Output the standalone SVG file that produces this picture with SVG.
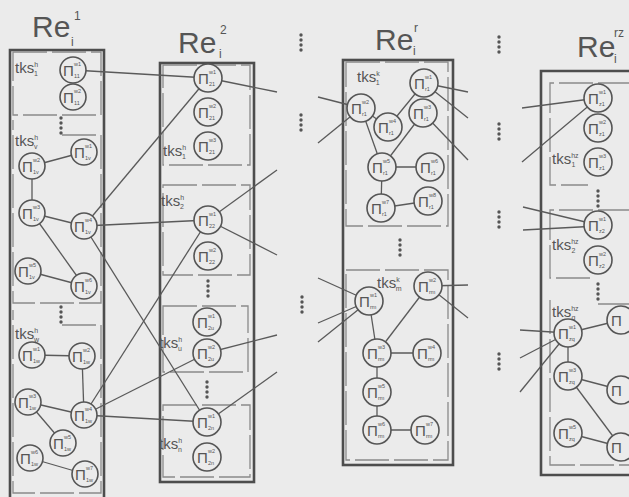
<svg xmlns="http://www.w3.org/2000/svg" width="629" height="497" viewBox="0 0 629 497">
<style>
.bg{fill:#ebebeb}
.box{fill:none;stroke:#4d4d4d;stroke-width:2.6}
.grp{fill:none;stroke:#8a8a8a;stroke-width:1.3;stroke-dasharray:34 5}
.e{stroke:#5a5a5a;stroke-width:1.3;fill:none}
.n circle{fill:#ebebeb;stroke:#555;stroke-width:1.6}
.p{font-family:"Liberation Sans",Arial,sans-serif;font-size:15px;fill:#555}
.s{font-family:"Liberation Sans",Arial,sans-serif;font-size:5.5px;fill:#555}
.t{font-family:"Liberation Sans",Arial,sans-serif;font-size:15px;fill:#555}
.ts{font-family:"Liberation Sans",Arial,sans-serif;font-size:7px;fill:#555}
.ti{font-family:"Liberation Sans",Arial,sans-serif;font-size:30px;fill:#555}
.tis{font-family:"Liberation Sans",Arial,sans-serif;font-size:12px;fill:#555}
.d{fill:#555}
</style>
<defs>
<g id="dots"><circle cx="0" cy="0" r="1.7"/><circle cx="0" cy="5" r="1.7"/><circle cx="0" cy="10" r="1.7"/><circle cx="0" cy="15" r="1.7"/></g>
</defs>
<rect class="bg" x="0" y="0" width="629" height="497"/>

<g id="titles">
<text class="ti" x="32" y="37">Re</text><text class="tis" x="74" y="20">1</text><text class="tis" x="71" y="46">i</text>
<text class="ti" x="178" y="53">Re</text><text class="tis" x="220" y="34">2</text><text class="tis" x="219" y="58">i</text>
<text class="ti" x="375" y="50">Re</text><text class="tis" x="414" y="32">r</text><text class="tis" x="413" y="55">i</text>
<text class="ti" x="577" y="57">Re</text><text class="tis" x="614" y="37">rz</text><text class="tis" x="614" y="63">i</text>
</g>

<g id="boxes">
<path class="box" d="M10,500 V50 H104 V500"/>
<rect class="box" x="160" y="63" width="94" height="419"/>
<rect class="box" x="343" y="60" width="110" height="405"/>
<path class="box" d="M632,71 H541 V475 H632"/>
<path class="grp" d="M13,52 H101 V115 H13 Z"/>
<path class="grp" d="M62,135 H101 V303 H13 V120"/>
<path class="grp" d="M62,325 H101 V493 H13 V310"/>
<path class="grp" d="M163,65 H250 V165 H163 Z"/>
<path class="grp" d="M163,185 H250 V275 H163 Z"/>
<path class="grp" d="M163,306 H248 V372 H163 Z"/>
<path class="grp" d="M163,405 H250 V477 H163 Z"/>
<path class="grp" d="M346,62 H448 V226 H346 Z"/>
<path class="grp" d="M346,270 H448 V460 H346 Z"/>
<path class="grp" d="M632,83 H550 V185 H588"/>
<path class="grp" d="M632,210 H550 V278 H592"/>
<path class="grp" d="M598,304 H632"/>
<path class="grp" d="M550,300 V465 H632"/>
</g>

<g id="ellipses" class="d">
<use href="#dots" x="61" y="118"/>
<use href="#dots" x="61" y="307"/>
<use href="#dots" x="208" y="281"/>
<use href="#dots" x="207" y="382"/>
<use href="#dots" x="400" y="240"/>
<use href="#dots" x="598" y="191"/>
<use href="#dots" x="598" y="284"/>
<use href="#dots" x="301" y="35"/>
<use href="#dots" x="301" y="115"/>
<use href="#dots" x="302" y="297"/>
<use href="#dots" x="499" y="37"/>
<use href="#dots" x="499" y="124"/>
<use href="#dots" x="499" y="212"/>
<use href="#dots" x="499" y="354"/>
</g>

<g id="connectors" class="e">
<line x1="73" y1="70" x2="208" y2="78"/>
<line x1="208" y1="78" x2="277" y2="92"/>
<line x1="84" y1="226" x2="208" y2="78"/>
<line x1="84" y1="226" x2="208" y2="220"/>
<line x1="84" y1="226" x2="207" y2="422"/>
<line x1="84" y1="415" x2="208" y2="220"/>
<line x1="84" y1="415" x2="207" y2="353"/>
<line x1="84" y1="415" x2="207" y2="422"/>
<line x1="208" y1="220" x2="277" y2="170"/>
<line x1="208" y1="220" x2="277" y2="255"/>
<line x1="207" y1="353" x2="277" y2="335"/>
<line x1="207" y1="422" x2="277" y2="372"/>
<line x1="32" y1="166" x2="84" y2="152"/>
<line x1="32" y1="166" x2="32" y2="213"/>
<line x1="32" y1="213" x2="84" y2="226"/>
<line x1="32" y1="213" x2="84" y2="286"/>
<line x1="28" y1="271" x2="84" y2="286"/>
<line x1="32" y1="355" x2="82" y2="356"/>
<line x1="82" y1="356" x2="84" y2="415"/>
<line x1="28" y1="402" x2="84" y2="415"/>
<line x1="28" y1="402" x2="63" y2="443"/>
<line x1="30" y1="458" x2="85" y2="474"/>
<line x1="361" y1="108" x2="388" y2="127"/>
<line x1="388" y1="127" x2="424" y2="83"/>
<line x1="361" y1="108" x2="382" y2="167"/>
<line x1="423" y1="113" x2="382" y2="167"/>
<line x1="382" y1="167" x2="430" y2="167"/>
<line x1="382" y1="167" x2="381" y2="208"/>
<line x1="381" y1="208" x2="428" y2="201"/>
<line x1="369" y1="301" x2="377" y2="353"/>
<line x1="428" y1="286" x2="377" y2="353"/>
<line x1="377" y1="353" x2="427" y2="353"/>
<line x1="377" y1="353" x2="377" y2="392"/>
<line x1="377" y1="392" x2="377" y2="430"/>
<line x1="377" y1="430" x2="425" y2="430"/>
<line x1="318" y1="97" x2="361" y2="108"/>
<line x1="318" y1="143" x2="361" y2="108"/>
<line x1="318" y1="278" x2="369" y2="301"/>
<line x1="318" y1="323" x2="369" y2="301"/>
<line x1="318" y1="342" x2="369" y2="301"/>
<line x1="424" y1="83" x2="468" y2="92"/>
<line x1="424" y1="83" x2="468" y2="118"/>
<line x1="423" y1="113" x2="468" y2="160"/>
<line x1="428" y1="286" x2="468" y2="285"/>
<line x1="428" y1="286" x2="468" y2="318"/>
<line x1="522" y1="108" x2="598" y2="98"/>
<line x1="522" y1="162" x2="598" y2="98"/>
<line x1="523" y1="207" x2="598" y2="225"/>
<line x1="523" y1="230" x2="598" y2="226"/>
<line x1="520" y1="330" x2="568" y2="333"/>
<line x1="520" y1="358" x2="568" y2="333"/>
<line x1="520" y1="392" x2="568" y2="333"/>
<line x1="568" y1="333" x2="621" y2="320"/>
<line x1="568" y1="333" x2="568" y2="376"/>
<line x1="568" y1="376" x2="621" y2="390"/>
<line x1="568" y1="376" x2="621" y2="447"/>
<line x1="568" y1="433" x2="621" y2="447"/>
</g>

<g id="tks">
<text class="t" x="15" y="73">tks<tspan class="ts" dy="-6">h</tspan><tspan class="ts" dx="-4" dy="9">1</tspan></text>
<text class="t" x="15" y="146">tks<tspan class="ts" dy="-6">h</tspan><tspan class="ts" dx="-4" dy="9">v</tspan></text>
<text class="t" x="15" y="339">tks<tspan class="ts" dy="-6">h</tspan><tspan class="ts" dx="-4" dy="9">w</tspan></text>
<text class="t" x="163" y="156">tks<tspan class="ts" dy="-6">h</tspan><tspan class="ts" dx="-4" dy="9">1</tspan></text>
<text class="t" x="161" y="206">tks<tspan class="ts" dy="-6">h</tspan><tspan class="ts" dx="-4" dy="9">2</tspan></text>
<text class="t" x="159" y="348">tks<tspan class="ts" dy="-6">h</tspan><tspan class="ts" dx="-4" dy="9">u</tspan></text>
<text class="t" x="159" y="449">tks<tspan class="ts" dy="-6">h</tspan><tspan class="ts" dx="-4" dy="9">n</tspan></text>
<text class="t" x="357" y="82">tks<tspan class="ts" dy="-6">k</tspan><tspan class="ts" dx="-4" dy="9">1</tspan></text>
<text class="t" x="377" y="288">tks<tspan class="ts" dy="-6">k</tspan><tspan class="ts" dx="-4" dy="9">m</tspan></text>
<text class="t" x="552" y="164">tks<tspan class="ts" dy="-6">hz</tspan><tspan class="ts" dx="-7" dy="9">1</tspan></text>
<text class="t" x="552" y="250">tks<tspan class="ts" dy="-6">hz</tspan><tspan class="ts" dx="-7" dy="9">2</tspan></text>
<text class="t" x="552" y="317">tks<tspan class="ts" dy="-6">hz</tspan><tspan class="ts" dx="-7" dy="9">q</tspan></text>
</g>

<g id="nA1" class="n" transform="translate(73,70)"><circle r="13"/><text class="p" x="-10" y="6">Π</text><text class="s" x="1" y="-4">w1</text><text class="s" x="1" y="8">11</text></g>
<g id="nA2" class="n" transform="translate(73,97)"><circle r="13"/><text class="p" x="-10" y="6">Π</text><text class="s" x="1" y="-4">w2</text><text class="s" x="1" y="8">11</text></g>
<g id="nB1" class="n" transform="translate(84,152)"><circle r="13"/><text class="p" x="-10" y="6">Π</text><text class="s" x="1" y="-4">w1</text><text class="s" x="1" y="8">1v</text></g>
<g id="nB2" class="n" transform="translate(32,166)"><circle r="13"/><text class="p" x="-10" y="6">Π</text><text class="s" x="1" y="-4">w2</text><text class="s" x="1" y="8">1v</text></g>
<g id="nB3" class="n" transform="translate(32,213)"><circle r="13"/><text class="p" x="-10" y="6">Π</text><text class="s" x="1" y="-4">w3</text><text class="s" x="1" y="8">1v</text></g>
<g id="nB4" class="n" transform="translate(84,226)"><circle r="13"/><text class="p" x="-10" y="6">Π</text><text class="s" x="1" y="-4">w4</text><text class="s" x="1" y="8">1v</text></g>
<g id="nB5" class="n" transform="translate(28,271)"><circle r="13"/><text class="p" x="-10" y="6">Π</text><text class="s" x="1" y="-4">w5</text><text class="s" x="1" y="8">1v</text></g>
<g id="nB6" class="n" transform="translate(84,286)"><circle r="13"/><text class="p" x="-10" y="6">Π</text><text class="s" x="1" y="-4">w6</text><text class="s" x="1" y="8">1v</text></g>
<g id="nC1" class="n" transform="translate(32,355)"><circle r="13"/><text class="p" x="-10" y="6">Π</text><text class="s" x="1" y="-4">w1</text><text class="s" x="1" y="8">1w</text></g>
<g id="nC2" class="n" transform="translate(82,356)"><circle r="13"/><text class="p" x="-10" y="6">Π</text><text class="s" x="1" y="-4">w2</text><text class="s" x="1" y="8">1w</text></g>
<g id="nC3" class="n" transform="translate(28,402)"><circle r="13"/><text class="p" x="-10" y="6">Π</text><text class="s" x="1" y="-4">w3</text><text class="s" x="1" y="8">1w</text></g>
<g id="nC4" class="n" transform="translate(84,415)"><circle r="13"/><text class="p" x="-10" y="6">Π</text><text class="s" x="1" y="-4">w4</text><text class="s" x="1" y="8">1w</text></g>
<g id="nC5" class="n" transform="translate(63,443)"><circle r="13"/><text class="p" x="-10" y="6">Π</text><text class="s" x="1" y="-4">w5</text><text class="s" x="1" y="8">1w</text></g>
<g id="nC6" class="n" transform="translate(30,458)"><circle r="13"/><text class="p" x="-10" y="6">Π</text><text class="s" x="1" y="-4">w6</text><text class="s" x="1" y="8">1w</text></g>
<g id="nC7" class="n" transform="translate(85,474)"><circle r="13"/><text class="p" x="-10" y="6">Π</text><text class="s" x="1" y="-4">w7</text><text class="s" x="1" y="8">1w</text></g>

<g id="nD1" class="n" transform="translate(208,78)"><circle r="14"/><text class="p" x="-10" y="6">Π</text><text class="s" x="1" y="-4">w1</text><text class="s" x="1" y="8">21</text></g>
<g id="nD2" class="n" transform="translate(208,112)"><circle r="14"/><text class="p" x="-10" y="6">Π</text><text class="s" x="1" y="-4">w2</text><text class="s" x="1" y="8">21</text></g>
<g id="nD3" class="n" transform="translate(208,146)"><circle r="14"/><text class="p" x="-10" y="6">Π</text><text class="s" x="1" y="-4">w3</text><text class="s" x="1" y="8">21</text></g>
<g id="nE1" class="n" transform="translate(208,220)"><circle r="14"/><text class="p" x="-10" y="6">Π</text><text class="s" x="1" y="-4">w1</text><text class="s" x="1" y="8">22</text></g>
<g id="nE2" class="n" transform="translate(208,256)"><circle r="14"/><text class="p" x="-10" y="6">Π</text><text class="s" x="1" y="-4">w2</text><text class="s" x="1" y="8">22</text></g>
<g id="nF1" class="n" transform="translate(207,322)"><circle r="14"/><text class="p" x="-10" y="6">Π</text><text class="s" x="1" y="-4">w1</text><text class="s" x="1" y="8">2u</text></g>
<g id="nF2" class="n" transform="translate(207,353)"><circle r="14"/><text class="p" x="-10" y="6">Π</text><text class="s" x="1" y="-4">w2</text><text class="s" x="1" y="8">2u</text></g>
<g id="nG1" class="n" transform="translate(207,422)"><circle r="14"/><text class="p" x="-10" y="6">Π</text><text class="s" x="1" y="-4">w1</text><text class="s" x="1" y="8">2n</text></g>
<g id="nG2" class="n" transform="translate(207,457)"><circle r="14"/><text class="p" x="-10" y="6">Π</text><text class="s" x="1" y="-4">w2</text><text class="s" x="1" y="8">2n</text></g>

<g id="nH1" class="n" transform="translate(424,83)"><circle r="14"/><text class="p" x="-10" y="6">Π</text><text class="s" x="1" y="-4">w1</text><text class="s" x="1" y="8">r1</text></g>
<g id="nH2" class="n" transform="translate(361,108)"><circle r="14"/><text class="p" x="-10" y="6">Π</text><text class="s" x="1" y="-4">w2</text><text class="s" x="1" y="8">r1</text></g>
<g id="nH3" class="n" transform="translate(423,113)"><circle r="14"/><text class="p" x="-10" y="6">Π</text><text class="s" x="1" y="-4">w3</text><text class="s" x="1" y="8">r1</text></g>
<g id="nH4" class="n" transform="translate(388,127)"><circle r="14"/><text class="p" x="-10" y="6">Π</text><text class="s" x="1" y="-4">w4</text><text class="s" x="1" y="8">r1</text></g>
<g id="nH5" class="n" transform="translate(382,167)"><circle r="14"/><text class="p" x="-10" y="6">Π</text><text class="s" x="1" y="-4">w5</text><text class="s" x="1" y="8">r1</text></g>
<g id="nH6" class="n" transform="translate(430,167)"><circle r="14"/><text class="p" x="-10" y="6">Π</text><text class="s" x="1" y="-4">w6</text><text class="s" x="1" y="8">r1</text></g>
<g id="nH7" class="n" transform="translate(381,208)"><circle r="14"/><text class="p" x="-10" y="6">Π</text><text class="s" x="1" y="-4">w7</text><text class="s" x="1" y="8">r1</text></g>
<g id="nH8" class="n" transform="translate(428,201)"><circle r="14"/><text class="p" x="-10" y="6">Π</text><text class="s" x="1" y="-4">w8</text><text class="s" x="1" y="8">r1</text></g>
<g id="nI1" class="n" transform="translate(369,301)"><circle r="14"/><text class="p" x="-10" y="6">Π</text><text class="s" x="1" y="-4">w1</text><text class="s" x="1" y="8">rm</text></g>
<g id="nI2" class="n" transform="translate(428,286)"><circle r="14"/><text class="p" x="-10" y="6">Π</text><text class="s" x="1" y="-4">w2</text><text class="s" x="1" y="8">rm</text></g>
<g id="nI3" class="n" transform="translate(377,353)"><circle r="14"/><text class="p" x="-10" y="6">Π</text><text class="s" x="1" y="-4">w3</text><text class="s" x="1" y="8">rm</text></g>
<g id="nI4" class="n" transform="translate(427,353)"><circle r="14"/><text class="p" x="-10" y="6">Π</text><text class="s" x="1" y="-4">w4</text><text class="s" x="1" y="8">rm</text></g>
<g id="nI5" class="n" transform="translate(377,392)"><circle r="14"/><text class="p" x="-10" y="6">Π</text><text class="s" x="1" y="-4">w5</text><text class="s" x="1" y="8">rm</text></g>
<g id="nI6" class="n" transform="translate(377,430)"><circle r="14"/><text class="p" x="-10" y="6">Π</text><text class="s" x="1" y="-4">w6</text><text class="s" x="1" y="8">rm</text></g>
<g id="nI7" class="n" transform="translate(425,430)"><circle r="14"/><text class="p" x="-10" y="6">Π</text><text class="s" x="1" y="-4">w7</text><text class="s" x="1" y="8">rm</text></g>

<g id="nJ1" class="n" transform="translate(598,98)"><circle r="14"/><text class="p" x="-10" y="6">Π</text><text class="s" x="1" y="-4">w1</text><text class="s" x="1" y="8">z1</text></g>
<g id="nJ2" class="n" transform="translate(598,128)"><circle r="14"/><text class="p" x="-10" y="6">Π</text><text class="s" x="1" y="-4">w2</text><text class="s" x="1" y="8">z1</text></g>
<g id="nJ3" class="n" transform="translate(598,162)"><circle r="14"/><text class="p" x="-10" y="6">Π</text><text class="s" x="1" y="-4">w3</text><text class="s" x="1" y="8">z1</text></g>
<g id="nK1" class="n" transform="translate(598,225)"><circle r="14"/><text class="p" x="-10" y="6">Π</text><text class="s" x="1" y="-4">w1</text><text class="s" x="1" y="8">z2</text></g>
<g id="nK2" class="n" transform="translate(598,260)"><circle r="14"/><text class="p" x="-10" y="6">Π</text><text class="s" x="1" y="-4">w2</text><text class="s" x="1" y="8">z2</text></g>
<g id="nL1" class="n" transform="translate(568,333)"><circle r="14"/><text class="p" x="-10" y="6">Π</text><text class="s" x="1" y="-4">w1</text><text class="s" x="1" y="8">zq</text></g>
<g id="nL2" class="n" transform="translate(621,320)"><circle r="14"/><text class="p" x="-10" y="6">Π</text></g>
<g id="nL3" class="n" transform="translate(568,376)"><circle r="14"/><text class="p" x="-10" y="6">Π</text><text class="s" x="1" y="-4">w3</text><text class="s" x="1" y="8">zq</text></g>
<g id="nL4" class="n" transform="translate(621,390)"><circle r="14"/><text class="p" x="-10" y="6">Π</text></g>
<g id="nL5" class="n" transform="translate(568,433)"><circle r="14"/><text class="p" x="-10" y="6">Π</text><text class="s" x="1" y="-4">w5</text><text class="s" x="1" y="8">zq</text></g>
<g id="nL6" class="n" transform="translate(621,447)"><circle r="14"/><text class="p" x="-10" y="6">Π</text></g>
</svg>
